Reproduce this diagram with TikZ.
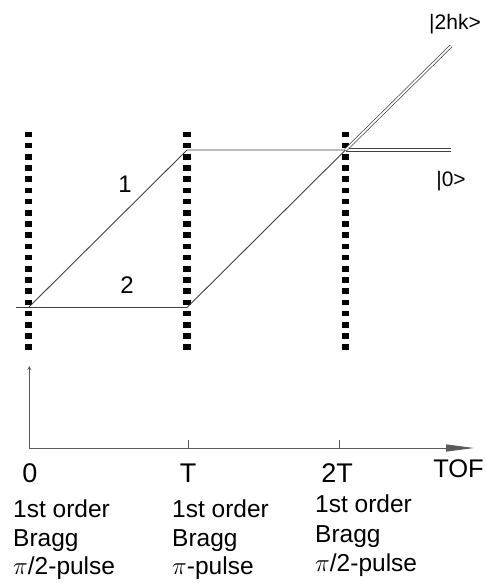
\documentclass[tikz,border=0pt]{standalone}
\usepackage{fontspec}
\setmainfont{Liberation Sans}
\usetikzlibrary{arrows.meta}
\begin{document}
\begin{tikzpicture}[x=1pt,y=-1pt,
  path/.style={draw=black!75, line width=0.9pt},
  beam/.style={draw=black!75, line width=0.7pt, double=white, double distance=1.8pt},
  pulse/.style={draw=black, line width=7.5pt, dash pattern=on 5.6pt off 5.6pt},
  axis/.style={draw=black!65, line width=0.8pt},
  lbl/.style={inner sep=0pt, font=\fontsize{24}{28}\selectfont, anchor=base},
  tick/.style={inner sep=0pt, font=\fontsize{27}{32}\selectfont, anchor=base},
  txt/.style={inner sep=0pt, font=\fontsize{24.5}{28}\selectfont, anchor=base west},
  ket/.style={inner sep=0pt, font=\fontsize{21}{25}\selectfont, anchor=base}]
\useasboundingbox (0,0) rectangle (485,583);
% pulse positions
\coordinate (p0top) at (28.5,131.5);
\coordinate (p0bot) at (28.5,351);
\coordinate (p1top) at (187,131.5);
\coordinate (p1bot) at (187,351);
\coordinate (p2top) at (345.5,131.5);
\coordinate (p2bot) at (345.5,351);
% trajectory vertices
\coordinate (start) at (16,307.5);
\coordinate (a) at (28.5,307.5);
\coordinate (upper) at (187,150);
\coordinate (lower) at (187,307.5);
\coordinate (meet) at (345.5,150);
\coordinate (out0) at (451,150);
\coordinate (out2) at (451,46);
% Bragg pulses
\draw[pulse] (p0top) -- (p0bot);
\draw[pulse] (p1top) -- (p1bot);
\draw[pulse] (p2top) -- (p2bot);
% interferometer arms
\draw[path] (start) -- (lower);
\draw[path] (a) -- (upper) -- (meet);
\draw[path] (lower) -- (meet);
\draw[beam] (meet) -- (out0);
\draw[beam] (meet) -- (out2);
\node[lbl] (arm1) at (125,192) {1};
\node[lbl] (arm2) at (127,293) {2};
\node[ket] (k2) at (455,30) {|2hk>};
\node[ket] (k0) at (451,186) {|0>};
% time axis
\coordinate (origin) at (29.3,448);
\coordinate (ytip) at (29.3,366);
\coordinate (xtip) at (474,448);
\draw[axis, -{Stealth[length=4pt,width=4pt,open]}] (origin) -- (ytip);
\draw[axis, -{Stealth[length=28pt,width=7pt,inset=0pt]}] (origin) -- (xtip);
\coordinate (tT) at (188,448);
\coordinate (t2T) at (339,448);
\draw[axis] (tT) -- ++(0,-8);
\draw[axis] (t2T) -- ++(0,-8);
\node[tick] (l0) at (30,482.5) {0};
\node[tick] (lT) at (188,482.5) {T};
\node[tick] (l2T) at (337,482.5) {2T};
\node[tick, font=\fontsize{25.5}{30}\selectfont, anchor=base east] (lTOF) at (484,477) {TOF};
% pulse descriptions
\node[txt] (a1) at (13,517.5) {1st order};
\node[txt] (a2) at (13,546) {Bragg};
\node[txt] (a3) at (13,574) {\(\pi\)/2-pulse};
\node[txt] (b1) at (172,517.5) {1st order};
\node[txt] (b2) at (172,546) {Bragg};
\node[txt] (b3) at (172,574) {\(\pi\)-pulse};
\node[txt] (c1) at (315,512.5) {1st order};
\node[txt] (c2) at (315,542) {Bragg};
\node[txt] (c3) at (315,571) {\(\pi\)/2-pulse};
\end{tikzpicture}
\end{document}
